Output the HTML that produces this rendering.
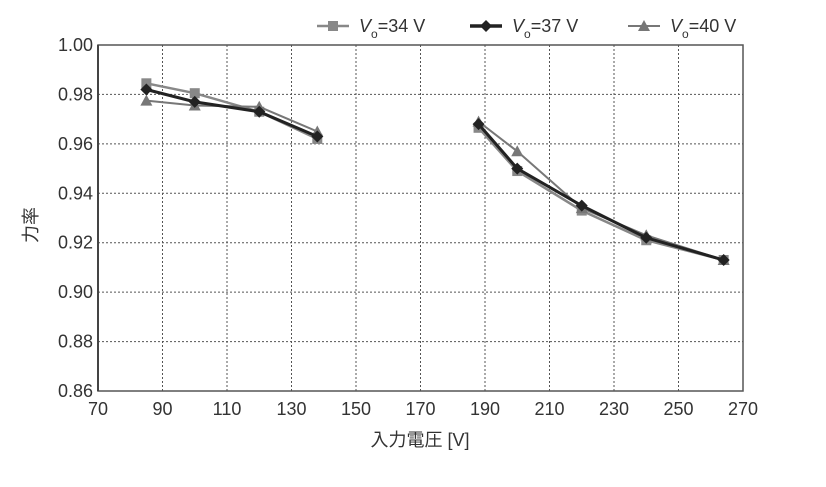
<!DOCTYPE html>
<html><head><meta charset="utf-8"><style>
body{margin:0;background:#fff}
svg text{font-family:"Liberation Sans","Noto Sans CJK JP",sans-serif;fill:#333}
</style></head><body>
<svg width="826" height="482">
<g id="grid"></g>
<g id="axes"></g>
<g id="series"></g>
<g id="legend"></g>
<text x="37" y="225" font-size="18" text-anchor="middle" transform="rotate(-90 37 225)">力率</text>
<text x="420" y="446" font-size="18" text-anchor="middle">入力電圧 [V]</text>
</svg>
<script>
const xTicks=[70,90,110,130,150,170,190,210,230,250,270];
const yTicks=[0.86,0.88,0.90,0.92,0.94,0.96,0.98,1.00];
const xLow=[85,100,120,138];
const xHigh=[188,200,220,240,264];
const v34Low=[0.9845,0.9805,0.973,0.962];
const v34High=[0.9665,0.949,0.933,0.921,0.913];
const v37Low=[0.982,0.977,0.973,0.963];
const v37High=[0.968,0.950,0.935,0.922,0.913];
const v40Low=[0.9775,0.9755,0.975,0.965];
const v40High=[0.969,0.957,0.934,0.923,0.913];
const seriesNames=["Vo=34 V","Vo=37 V","Vo=40 V"];
const NS="http://www.w3.org/2000/svg";
const X0=98,X1=743,Y0=391,Y1=45;
const sx=v=>X0+(v-70)/(270-70)*(X1-X0);
const sy=v=>Y0-(v-0.86)/(1.00-0.86)*(Y0-Y1);
function mk(tag,at,parent){const e=document.createElementNS(NS,tag);for(const k in at)e.setAttribute(k,at[k]);parent.appendChild(e);return e;}
const grid=document.getElementById('grid'),axes=document.getElementById('axes'),ser=document.getElementById('series'),leg=document.getElementById('legend');
xTicks.forEach(t=>{
  if(t>70&&t<270){const l=mk('line',{x1:sx(t),x2:sx(t),y1:Y1,y2:Y0,stroke:'#555','stroke-width':1,'stroke-dasharray':'2,2'},grid);
  
  }
  const tx=mk('text',{x:sx(t),y:Y0+24,'font-size':18,'text-anchor':'middle'},axes);tx.textContent=t;
  
  
});
yTicks.forEach(t=>{
  if(t>0.86&&t<1.0){const l=mk('line',{x1:X0,x2:X1,y1:sy(t),y2:sy(t),stroke:'#555','stroke-width':1,'stroke-dasharray':'2,2'},grid);
  
  }
  const tx=mk('text',{x:93,y:sy(t)+6,'font-size':18,'text-anchor':'end'},axes);tx.textContent=t.toFixed(2);
  
  
});
const fr=mk('rect',{x:X0,y:Y1,width:X1-X0,height:Y0-Y1,fill:'none',stroke:'#555','stroke-width':1.5},axes);


const lft=mk('line',{x1:X0,x2:X0,y1:Y1,y2:Y0,stroke:'#444','stroke-width':2},axes);


function marker(type,x,y,color,parent){
  let e;
  if(type==='sq')e=mk('rect',{x:x-5,y:y-5,width:10,height:10,fill:color},parent);
  else if(type==='di')e=mk('polygon',{points:`${x},${y-6} ${x+6},${y} ${x},${y+6} ${x-6},${y}`,fill:color},parent);
  else e=mk('polygon',{points:`${x},${y-6} ${x+6},${y+5} ${x-6},${y+5}`,fill:color},parent);
  return e;
}
const defs=[{lo:v34Low,hi:v34High,c:'#888',w:2.5,m:'sq',n:'vo-34'},{lo:v40Low,hi:v40High,c:'#777',w:2,m:'tri',n:'vo-40'},{lo:v37Low,hi:v37High,c:'#222',w:3,m:'di',n:'vo-37'}];
defs.forEach(d=>{
  [[xLow,d.lo],[xHigh,d.hi]].forEach(([xs,ys])=>{
    const pl=mk('polyline',{points:xs.map((x,i)=>sx(x)+','+sy(ys[i])).join(' '),fill:'none',stroke:d.c,'stroke-width':d.w},ser);
    
    
    xs.forEach((x,i)=>{const m=marker(d.m,sx(x),sy(ys[i]),d.c,ser);
      
      });
  });
});
const legItems=[{x:317,c:'#888',m:'sq',w:2.5},{x:470,c:'#222',m:'di',w:3.5},{x:628,c:'#777',m:'tri',w:2}];
legItems.forEach((it,i)=>{
  const g=mk('g',{},leg);
  
  
  mk('line',{x1:it.x,x2:it.x+32,y1:26,y2:26,stroke:it.c,'stroke-width':it.w},g);
  marker(it.m,it.x+16,26,it.c,g);
  const t=mk('text',{x:it.x+42,y:32,'font-size':18},g);
  const parts=seriesNames[i].split('=');
  t.innerHTML=`<tspan font-style="italic">V</tspan><tspan font-size="12" dy="6">o</tspan><tspan dy="-6">=${parts[1]}</tspan>`;
});
</script>
</body></html>
